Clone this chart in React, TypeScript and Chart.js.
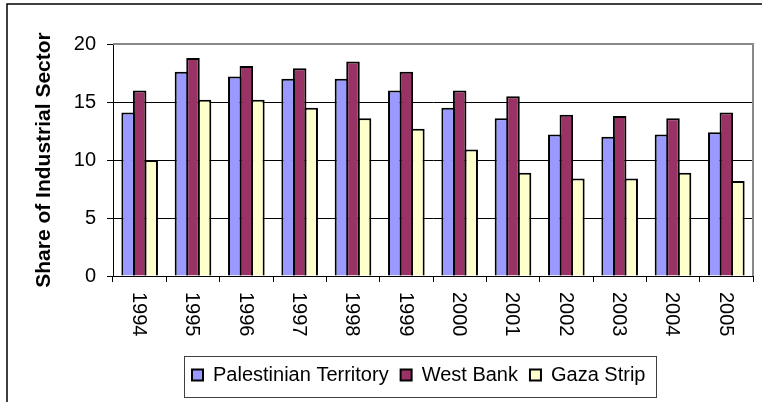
import { useEffect, useRef } from 'react';
import { Chart, registerables } from 'chart.js';

Chart.register(...registerables);

const categories = ['1994', '1995', '1996', '1997', '1998', '1999', '2000', '2001', '2002', '2003', '2004', '2005'];
const palestinianTerritory = [14.1, 17.6, 17.2, 17.0, 17.0, 16.0, 14.5, 13.6, 12.2, 12.0, 12.2, 12.4];
const westBank = [16.0, 18.8, 18.1, 17.9, 18.5, 17.6, 16.0, 15.5, 13.9, 13.8, 13.6, 14.1];
const gazaStrip = [10.0, 15.2, 15.2, 14.5, 13.6, 12.7, 10.9, 8.9, 8.4, 8.4, 8.9, 8.2];
const seriesNames = ['Palestinian Territory', 'West Bank', 'Gaza Strip'];
const yMin = 0;
const yMax = 20;
const yStep = 5;
const yTitle = 'Share of Industrial Sector';

const FONT = "'Liberation Sans', Arial, sans-serif";

const decorPlugin = {
  id: 'decor',
  beforeDraw(chart: any) {
    const ctx = chart.ctx;
    ctx.save();
    ctx.fillStyle = '#ffffff';
    ctx.fillRect(0, 0, chart.width, chart.height);
    ctx.strokeStyle = '#000000';
    ctx.lineWidth = 1.5;
    ctx.beginPath();
    ctx.moveTo(7, chart.height);
    ctx.lineTo(7, 4);
    ctx.lineTo(chart.width, 4);
    ctx.stroke();
    ctx.restore();
  },
  afterLayout(chart: any) {
    const L = chart.legend;
    if (!L || !L.lineWidths) return;
    const pad = L.options.labels.padding;
    const x0 = (L.left + pad + L.right - L.lineWidths[0]) / 2;
    const shift = 192 - x0;
    L.left += shift;
    L.right += shift;
  },
  beforeDatasetsDraw(chart: any) {
    const ctx = chart.ctx;
    const a = chart.chartArea;
    ctx.save();
    ctx.strokeStyle = '#888888';
    ctx.lineWidth = 2;
    ctx.beginPath();
    ctx.moveTo(a.left, a.top);
    ctx.lineTo(a.right, a.top);
    ctx.lineTo(a.right, a.bottom);
    ctx.stroke();
    ctx.restore();
  },
  afterDraw(chart: any) {
    const ctx = chart.ctx;
    const a = chart.chartArea;
    const xs = chart.scales.x;
    ctx.save();
    // rotated x labels (clockwise)
    ctx.fillStyle = '#000000';
    ctx.font = `20px ${FONT}`;
    ctx.textAlign = 'left';
    ctx.textBaseline = 'middle';
    (chart.data.labels as string[]).forEach((lab, i) => {
      const x = xs.getPixelForValue(i);
      ctx.save();
      ctx.translate(x - 1, a.bottom + 16);
      ctx.rotate(Math.PI / 2);
      ctx.fillText(lab, 0, 0);
      ctx.restore();
    });
    // legend border
    const L = chart.legend;
    if (L && L.lineWidths) {
      const pad = L.options.labels.padding;
      const x0 = (L.left + pad + L.right - L.lineWidths[0]) / 2;
      const x1 = x0 + L.lineWidths[0] - pad;
      const cy = L.top + pad + 10;
      ctx.strokeStyle = '#404040';
      ctx.lineWidth = 1;
      ctx.strokeRect(Math.round(x0 - 8) + 0.5, Math.round(cy - 19) + 0.5, Math.round(x1 - x0 + 19), 41);
    }
    ctx.restore();
  },
};

export default function App() {
  const ref = useRef<HTMLCanvasElement | null>(null);

  useEffect(() => {
    if (!ref.current) return;
    Chart.defaults.color = '#000000';
    Chart.defaults.font.family = FONT;
    const chart = new Chart(ref.current, {
      type: 'bar',
      data: {
        labels: categories,
        datasets: [
          { label: seriesNames[0], data: palestinianTerritory, backgroundColor: '#9999FF', borderColor: '#000000', borderWidth: 2 },
          { label: seriesNames[1], data: westBank, backgroundColor: '#993366', borderColor: '#000000', borderWidth: 2 },
          { label: seriesNames[2], data: gazaStrip, backgroundColor: '#FFFFCC', borderColor: '#000000', borderWidth: 2 },
        ],
      },
      options: {
        animation: false,
        responsive: false,
        devicePixelRatio: 1,
        datasets: { bar: { categoryPercentage: 0.649, barPercentage: 1.173 } },
        layout: { padding: { left: 8, right: 9, top: 44, bottom: 7 } },
        plugins: {
          tooltip: { enabled: false },
          legend: {
            position: 'bottom',
            labels: {
              font: { size: 20, family: FONT },
              color: '#000000',
              boxWidth: 11,
              boxHeight: 11,
              padding: 12,
            },
          },
        },
        scales: {
          x: {
            offset: true,
            grid: { display: true, drawOnChartArea: false, drawTicks: true, tickLength: 6, color: '#000000', offset: true },
            border: { display: true, color: '#000000', width: 1 },
            ticks: { display: false },
            afterFit: (s: any) => { s.height = 77; },
          },
          y: {
            min: yMin,
            max: yMax,
            ticks: { stepSize: yStep, font: { size: 20, family: FONT }, color: '#000000', padding: 11 },
            grid: {
              color: (c: any) => (c.tick && c.tick.value === yMax ? 'rgba(0,0,0,0)' : '#000000'),
              tickColor: '#000000',
              tickLength: 6,
              lineWidth: 1,
            },
            border: { display: true, color: '#000000', width: 1 },
            title: {
              display: true,
              text: yTitle,
              color: '#000000',
              font: { size: 21, weight: 'bold', family: FONT },
              padding: { top: 24, bottom: 0 },
            },
            afterFit: (s: any) => { s.width = 105; },
          },
        },
      },
      plugins: [decorPlugin],
    } as any);
    return () => chart.destroy();
  }, []);

  return (
    <div style={{ position: 'fixed', left: 0, top: 0, width: 762, height: 402, background: '#fff' }}>
      <canvas ref={ref} width={762} height={402} style={{ display: 'block' }} />
    </div>
  );
}
